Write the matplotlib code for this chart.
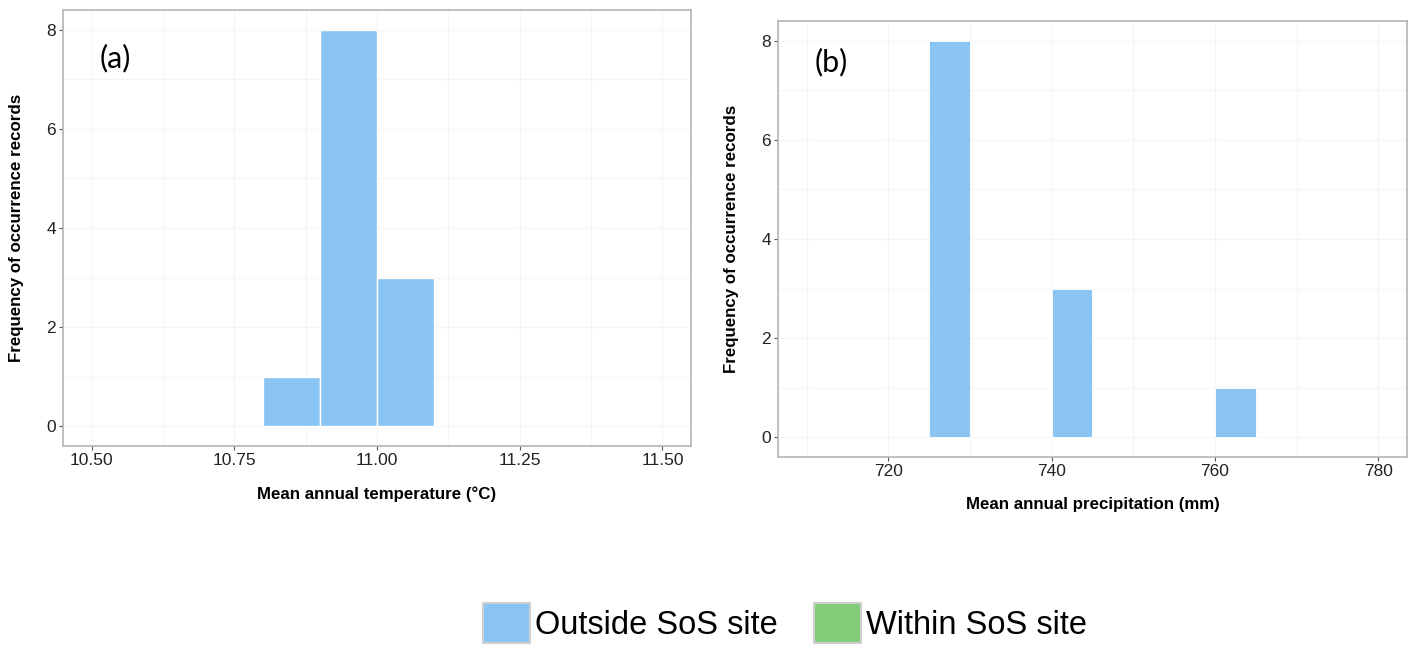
import matplotlib.pyplot as plt
from matplotlib.patches import Patch

# panel (a): temperature histogram bins
temp_left = [10.8, 10.9, 11.0]
temp_width = 0.1
temp_counts = [1, 8, 3]
temp_ticks = [10.50, 10.75, 11.00, 11.25, 11.50]

# panel (b): precipitation histogram bins
precip_left = [725, 740, 760]
precip_width = 5
precip_counts = [8, 3, 1]
precip_ticks = [720, 740, 760, 780]

y_ticks = [0, 2, 4, 6, 8]
legend_labels = ["Outside SoS site", "Within SoS site"]

BLUE = "#8ac4f2"
GREEN = "#82cd7a"
GRID = "#f5f5f5"

plt.rcParams["font.family"] = ["Liberation Sans", "DejaVu Sans"]

fig = plt.figure(figsize=(14.18, 6.48), dpi=100)
W, H = 1418, 648


def make_axes(x0, y0, x1, y1):
    return fig.add_axes([x0 / W, 1 - y1 / H, (x1 - x0) / W, (y1 - y0) / H])


def style(ax, xlabel, box_w, box_h):
    for s in ax.spines.values():
        s.set_color("#b4b4b4")
        s.set_linewidth(1.2)
    ax.tick_params(axis="both", length=3, width=0.8, color="#555555",
                   labelsize=12.5, labelcolor="#222222", pad=2)
    ax.set_ylim(-0.4, 8.4)
    ax.set_yticks(y_ticks)
    ax.set_yticks([1, 3, 5, 7], minor=True)
    ax.tick_params(axis="both", which="minor", length=0)
    ax.grid(True, which="both", color=GRID, linewidth=0.8)
    ax.set_axisbelow(True)
    ax.set_ylabel("Frequency of occurrence records", fontsize=12.2,
                  fontweight="bold")
    ax.set_xlabel(xlabel, fontsize=12.2, fontweight="bold")
    ax.yaxis.set_label_coords(-39 / box_w, 0.5)
    ax.xaxis.set_label_coords(0.5, -40 / box_h)


ax1 = make_axes(63, 10, 691, 446)
ax1.bar(temp_left, temp_counts, width=temp_width, align="edge",
        color=BLUE, edgecolor="white", linewidth=1.0, zorder=2)
ax1.set_xlim(10.45, 11.55)
ax1.set_xticks(temp_ticks)
ax1.set_xticklabels([f"{t:.2f}" for t in temp_ticks])
ax1.set_xticks([10.625, 10.875, 11.125, 11.375], minor=True)
style(ax1, "Mean annual temperature (°C)", 628, 436)
ax1.text(0.083, 0.89, "(a)", transform=ax1.transAxes, fontsize=22,
         family=["Lato", "DejaVu Sans"], ha="center", va="center")

ax2 = make_axes(778, 21, 1407, 457)
ax2.bar(precip_left, precip_counts, width=precip_width, align="edge",
        color=BLUE, edgecolor="white", linewidth=0.6, zorder=2)
ax2.set_xlim(706.5, 783.5)
ax2.set_xticks(precip_ticks)
ax2.set_xticks([710, 730, 750, 770], minor=True)
style(ax2, "Mean annual precipitation (mm)", 629, 436)
ax2.text(0.084, 0.905, "(b)", transform=ax2.transAxes, fontsize=22,
         family=["Lato", "DejaVu Sans"], ha="center", va="center")

handles = [Patch(facecolor=BLUE, edgecolor="#cfcfcf", linewidth=1.5),
           Patch(facecolor=GREEN, edgecolor="#cfcfcf", linewidth=1.5)]
fig.legend(handles, legend_labels, loc="center", ncol=2,
           bbox_to_anchor=(785 / W, 1 - 623 / H), frameon=False,
           fontsize=23.5, handlelength=1.45, handleheight=1.5,
           handletextpad=0.15, columnspacing=1.1, borderpad=0.1)

fig.savefig("out.png", dpi=100)
